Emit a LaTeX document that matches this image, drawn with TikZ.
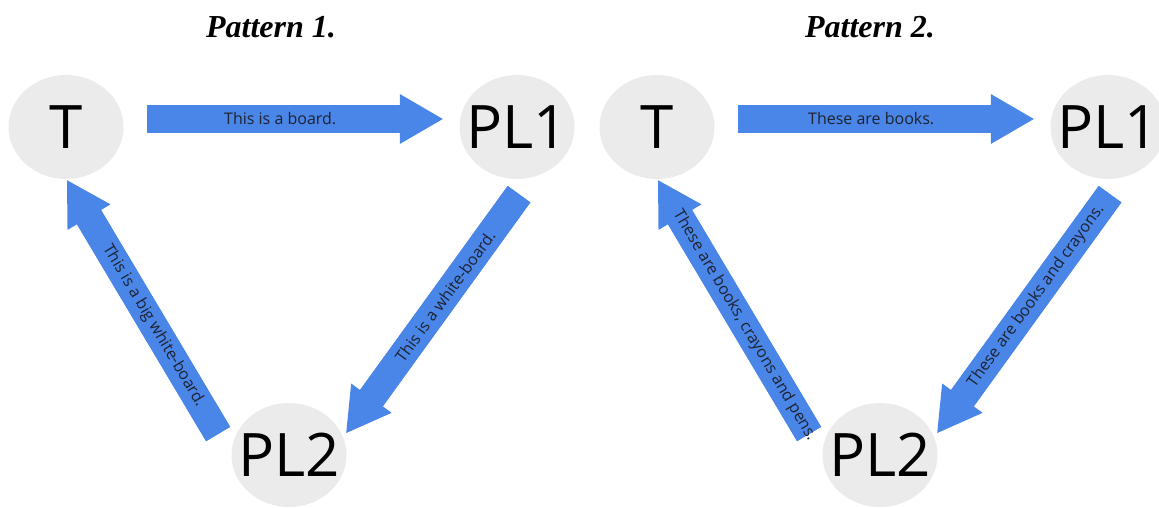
\documentclass[tikz,border=0pt]{standalone}
\usepackage{fontspec}
\setmainfont{Open Sans}
\newfontfamily\titlefont{Liberation Serif}
\usetikzlibrary{arrows.meta,shapes.geometric}
\definecolor{arrowblue}{HTML}{4A86E8}
\definecolor{circlegray}{HTML}{EBEBEB}
\definecolor{labelink}{HTML}{1E2230}
\begin{document}
\begin{tikzpicture}[x=1pt,y=-1pt,
  person/.style={ellipse, fill=circlegray, minimum width=115pt, minimum height=104pt,
    inner sep=0pt, label={[font=\fontsize{60}{60}\selectfont, inner sep=0pt]center:#1}},
  bigarrow/.style={draw=arrowblue, line width=28pt,
    -{Triangle[length=43pt 0 0, width=50pt 0 0, line width=0pt]},
    preaction={draw=arrowblue, line width=28pt, arrows=-, shorten >=40pt}},
  saylabel/.style={pos=0.427, sloped, font=\fontsize{16}{16}\selectfont,
    text=labelink, inner sep=0pt},
  toplabel/.style={saylabel, pos=0.45},
  titletext/.style={font=\titlefont\bfseries\itshape\fontsize{32}{32}\selectfont, anchor=base}
]
\useasboundingbox (0,0) rectangle (1159,507);
\clip (0,0) rectangle (1159,507);

% Pattern 1
\node[titletext] (title1) at (271,37) {Pattern 1.};
\node[person=T] (T1) at (66,127) {};
\node[person=PL1] (PLa1) at (517,127) {};
\node[person=PL2] (PLb1) at (289,455) {};
\draw[bigarrow] ([shift={(23.5,-8)}]T1.east) -- node[toplabel]{This is a board.} ([shift={(-16.5,-8)}]PLa1.west);
\draw[bigarrow] ([shift={(2,15)}]PLa1.south) -- node[saylabel]{This is a white-board.} ([shift={(-0.5,-22)}]PLb1.east);
\draw[bigarrow] ([shift={(-13.2,-21)}]PLb1.west) -- node[saylabel]{This is a big white-board.} ([shift={(1,1)}]T1.south);

% Pattern 2
\node[titletext] (title2) at (870,37) {Pattern 2.};
\node[person=T] (T2) at (657,127) {};
\node[person=PL1] (PLa2) at (1108,127) {};
\node[person=PL2] (PLb2) at (880,455) {};
\draw[bigarrow] ([shift={(23.5,-8)}]T2.east) -- node[toplabel]{These are books.} ([shift={(-16.5,-8)}]PLa2.west);
\draw[bigarrow] ([shift={(2,15)}]PLa2.south) -- node[saylabel]{These are books and crayons.} ([shift={(-0.5,-22)}]PLb2.east);
\draw[bigarrow] ([shift={(-13.2,-21)}]PLb2.west) -- node[saylabel]{These are books, crayons and pens.} ([shift={(1,1)}]T2.south);
\end{tikzpicture}
\end{document}
